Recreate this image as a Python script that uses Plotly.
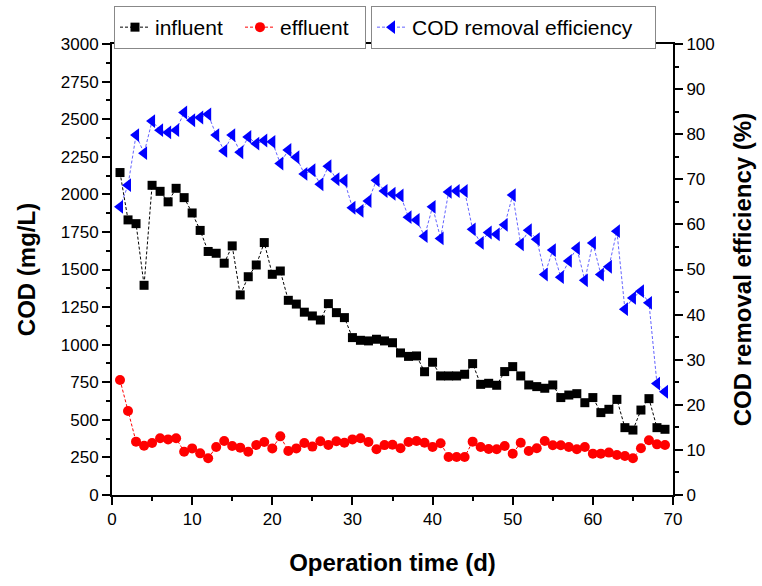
import plotly.graph_objects as go

days = [1, 2, 3, 4, 5, 6, 7, 8, 9, 10, 11, 12, 13, 14, 15, 16, 17, 18, 19, 20,
        21, 22, 23, 24, 25, 26, 27, 28, 29, 30, 31, 32, 33, 34, 35, 36, 37, 38, 39, 40,
        41, 42, 43, 44, 45, 46, 47, 48, 49, 50, 51, 52, 53, 54, 55, 56, 57, 58, 59, 60,
        61, 62, 63, 64, 65, 66, 67, 68, 69]

influent = [2145, 1830, 1805, 1395, 2060, 2020, 1950, 2040, 1978, 1876,
            1760, 1620, 1608, 1542, 1657, 1331, 1452, 1530, 1679, 1468,
            1490, 1295, 1270, 1216, 1191, 1164, 1273, 1213, 1180, 1047,
            1029, 1025, 1036, 1025, 1013, 945, 922, 925, 820, 883,
            792, 792, 792, 803, 874, 736, 743, 730, 821, 854,
            792, 732, 721, 710, 732, 648, 665, 674, 614, 648,
            548, 570, 636, 448, 432, 565, 641, 448, 437]

effluent = [765, 559, 355, 328, 346, 377, 370, 377, 288, 310,
            277, 244, 319, 359, 326, 315, 288, 333, 353, 310,
            390, 293, 310, 346, 322, 357, 333, 357, 348, 370,
            377, 353, 304, 332, 334, 311, 353, 359, 348, 319,
            344, 253, 253, 253, 355, 319, 306, 304, 326, 275,
            348, 293, 311, 359, 331, 331, 319, 304, 319, 275,
            275, 282, 266, 259, 244, 311, 364, 337, 333]

efficiency = [63.9, 68.7, 79.8, 75.8, 82.9, 80.9, 80.4, 80.9, 84.8, 83.1,
              83.7, 84.4, 79.8, 76.3, 79.8, 76.0, 79.4, 77.9, 78.6, 78.3,
              73.5, 76.5, 74.9, 71.2, 72.0, 68.9, 72.9, 70.0, 69.7, 63.7,
              63.0, 65.2, 69.8, 67.4, 66.8, 66.4, 61.6, 61.0, 57.4, 63.9,
              56.9, 67.2, 67.4, 67.4, 58.9, 55.9, 58.2, 57.8, 59.9, 66.5,
              55.6, 58.7, 56.7, 48.9, 54.3, 48.3, 51.9, 54.7, 47.6, 55.9,
              48.9, 50.6, 58.5, 41.2, 43.7, 45.2, 42.6, 24.7, 22.9]

FONT = "Liberation Sans, Arial, sans-serif"

fig = go.Figure()
fig.add_trace(go.Scatter(
    x=days, y=influent, name="influent", mode="lines+markers",
    line=dict(color="black", width=1, dash="3px,2px"),
    marker=dict(symbol="square", size=9, color="black"),
    legend="legend"))
fig.add_trace(go.Scatter(
    x=days, y=effluent, name="effluent", mode="lines+markers",
    line=dict(color="red", width=1, dash="3px,2px"),
    marker=dict(symbol="circle", size=10, color="red"),
    legend="legend"))
fig.add_trace(go.Scatter(
    x=days, y=efficiency, name="COD removal efficiency", mode="lines+markers",
    line=dict(color="rgba(60,60,255,0.8)", width=1, dash="3px,2px"),
    marker=dict(symbol="triangle-left", size=12, color="blue"),
    yaxis="y2", legend="legend2"))

axis_common = dict(
    showline=True, linecolor="black", linewidth=2,
    ticks="outside", ticklen=8, tickwidth=2, tickcolor="black",
    showgrid=False, zeroline=False,
    tickfont=dict(family=FONT, size=17, color="black"),
)

fig.update_layout(
    width=762, height=586,
    margin=dict(l=112, r=89, t=44, b=91, autoexpand=False),
    paper_bgcolor="white", plot_bgcolor="white",
    font=dict(family=FONT, color="black"),
    xaxis=dict(
        range=[0, 70], dtick=10, tick0=0, mirror=True,
        minor=dict(dtick=5, ticklen=4, tickwidth=2, tickcolor="black", ticks="outside"),
        title=dict(text="<b>Operation time (d)</b>", font=dict(family=FONT, size=24), standoff=26),
        **axis_common),
    yaxis=dict(
        range=[0, 3000], dtick=250, tick0=0,
        minor=dict(dtick=125, ticklen=4, tickwidth=2, tickcolor="black", ticks="outside"),
        title=dict(text="<b>COD (mg/L)</b>", font=dict(family=FONT, size=24), standoff=18),
        **axis_common),
    yaxis2=dict(
        range=[0, 100], dtick=10, tick0=0, overlaying="y", side="right",
        minor=dict(dtick=5, ticklen=4, tickwidth=2, tickcolor="black", ticks="outside"),
        title=dict(text="<b>COD removal efficiency (%)</b>", font=dict(family=FONT, size=24), standoff=20),
        **axis_common),
    legend=dict(
        orientation="h", xref="container", yref="container",
        x=114 / 762, xanchor="left", y=1 - 6 / 586, yanchor="top",
        bordercolor="#888888", borderwidth=1, bgcolor="white",
        font=dict(family=FONT, size=21, color="black"),
        entrywidth=80, tracegroupgap=0),
    legend2=dict(
        orientation="h", xref="container", yref="container",
        x=371 / 762, xanchor="left", y=1 - 6 / 586, yanchor="top",
        bordercolor="#888888", borderwidth=1, bgcolor="white",
        font=dict(family=FONT, size=21, color="black"),
        entrywidth=238),
    showlegend=True,
)

fig.write_html("out.html")
